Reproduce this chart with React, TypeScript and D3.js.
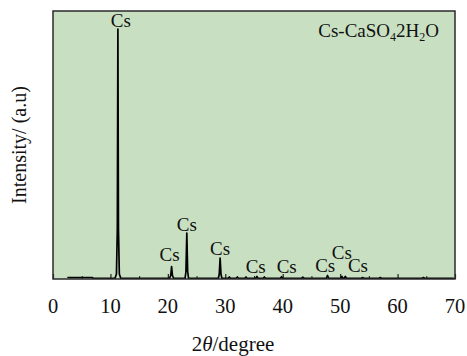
import React, { useRef, useEffect } from "react";
import * as d3 from "d3";

// pattern: 2theta (degree) and intensity (a.u.)
const twoTheta = [
  2.5, 6.8, 7.0, 10.8, 11.05, 11.2, 11.3, 11.4, 11.55, 11.8,
  20.3, 20.5, 20.65, 20.8, 21.0, 23.0, 23.15, 23.3, 23.45, 23.6,
  28.8, 28.95, 29.1, 29.25, 29.4, 30.5, 30.7, 30.9, 31.9, 32.1, 32.3,
  33.4, 33.6, 33.8, 35.3, 35.5, 35.7, 36.6, 36.8, 37.0, 39.6, 39.8, 40.0,
  43.3, 43.5, 43.7, 47.6, 47.8, 48.0, 50.1, 50.3, 50.5, 50.7, 50.9, 51.1,
  53.7, 53.9, 54.1, 56.8, 57.0, 57.2, 64.3, 64.5, 64.7, 69.8,
];
const intensity = [
  6, 6, 3, 3, 20, 200, 1000, 200, 20, 3,
  3, 14, 50, 14, 3, 3, 30, 184, 30, 3,
  3, 20, 84, 20, 3, 3, 8, 3, 3, 8, 3,
  3, 8, 3, 3, 10, 3, 3, 8, 3, 3, 9, 3,
  3, 7, 3, 3, 14, 3, 3, 10, 3, 3, 10, 3,
  3, 6, 3, 3, 6, 3, 3, 6, 3, 3,
];

// peak labels: position (2theta) and label height (a.u.)
const labelTheta = [11.8, 20.3, 23.3, 29.1, 35.3, 40.7, 47.4, 50.3, 53.1];
const labelLevel = [1003, 68, 188, 92, 20, 20, 24, 78, 24];

const xTicks = [0, 10, 20, 30, 40, 50, 60, 70];
const xMinor = [5, 15, 25, 35, 45, 55, 65];

export default function App() {
  const svgRef = useRef<SVGSVGElement>(null);

  useEffect(() => {
    const width = 467;
    const height = 356;
    const marginTop = 11;
    const marginRight = 12;
    const marginBottom = 77;
    const marginLeft = 53;
    const font = "'Liberation Serif', 'Times New Roman', serif";

    const x = d3.scaleLinear().domain([0, 70]).range([marginLeft, width - marginRight]);
    const y = d3.scaleLinear().domain([0, 1072]).range([height - marginBottom, marginTop]);

    const svg = d3.select(svgRef.current)
      .attr("width", width)
      .attr("height", height)
      .attr("viewBox", [0, 0, width, height] as any);
    svg.selectAll("*").remove();

    // plot background
    svg.append("rect")
      .attr("x", marginLeft)
      .attr("y", marginTop)
      .attr("width", width - marginRight - marginLeft)
      .attr("height", height - marginBottom - marginTop)
      .attr("fill", "#c8e0c1");

    // inward ticks on the bottom edge
    svg.append("g")
      .attr("transform", `translate(0,${height - marginBottom})`)
      .call(d3.axisTop(x).tickValues(xTicks).tickSize(5).tickFormat(() => ""))
      .call(g => g.select(".domain").remove())
      .call(g => g.selectAll("line").attr("stroke", "#222").attr("stroke-width", 1.2));
    svg.append("g")
      .attr("transform", `translate(0,${height - marginBottom})`)
      .call(d3.axisTop(x).tickValues(xMinor).tickSize(3).tickFormat(() => ""))
      .call(g => g.select(".domain").remove())
      .call(g => g.selectAll("line").attr("stroke", "#222").attr("stroke-width", 1));

    // tick labels
    svg.append("g")
      .selectAll("text")
      .data(xTicks)
      .join("text")
        .attr("x", d => x(d))
        .attr("y", 313)
        .attr("text-anchor", "middle")
        .attr("font-family", font)
        .attr("font-size", 20.5)
        .attr("fill", "#111")
        .text(d => d);

    // the pattern
    const pts = twoTheta.map((t, i) => [t, intensity[i]] as [number, number]);
    svg.append("path")
      .datum(pts)
      .attr("fill", "none")
      .attr("stroke", "#000")
      .attr("stroke-width", 1.7)
      .attr("stroke-linejoin", "round")
      .attr("d", d3.line<[number, number]>().x(d => x(d[0])).y(d => y(d[1])));

    // peak labels
    svg.append("g")
      .selectAll("text")
      .data(labelTheta)
      .join("text")
        .attr("x", d => x(d))
        .attr("y", (d, i) => y(labelLevel[i]) - 1)
        .attr("text-anchor", "middle")
        .attr("font-family", font)
        .attr("font-size", 19)
        .attr("fill", "#111")
        .text("Cs");

    // frame
    svg.append("rect")
      .attr("x", marginLeft)
      .attr("y", marginTop)
      .attr("width", width - marginRight - marginLeft)
      .attr("height", height - marginBottom - marginTop)
      .attr("fill", "none")
      .attr("stroke", "#2a2a2a")
      .attr("stroke-width", 1.5);

    // sample name
    const title = svg.append("text")
      .attr("x", 439)
      .attr("y", 37)
      .attr("text-anchor", "end")
      .attr("font-family", font)
      .attr("font-size", 19)
      .attr("fill", "#111");
    title.append("tspan").text("Cs-CaSO");
    title.append("tspan").attr("font-size", 12).attr("dy", 4).text("4");
    title.append("tspan").attr("dy", -4).text("2H");
    title.append("tspan").attr("font-size", 12).attr("dy", 4).text("2");
    title.append("tspan").attr("dy", -4).text("O");

    // axis titles
    const xl = svg.append("text")
      .attr("x", 233)
      .attr("y", 351)
      .attr("text-anchor", "middle")
      .attr("font-family", font)
      .attr("font-size", 21)
      .attr("fill", "#111");
    xl.append("tspan").text("2");
    xl.append("tspan").attr("font-style", "italic").text("θ");
    xl.append("tspan").text("/degree");

    svg.append("text")
      .attr("transform", `translate(26,145) rotate(-90)`)
      .attr("text-anchor", "middle")
      .attr("font-family", font)
      .attr("font-size", 20)
      .attr("fill", "#111")
      .text("Intensity/ (a.u)");
  }, []);

  return (
    <div style={{ position: "absolute", left: 0, top: 0 }}>
      <svg ref={svgRef}></svg>
    </div>
  );
}
